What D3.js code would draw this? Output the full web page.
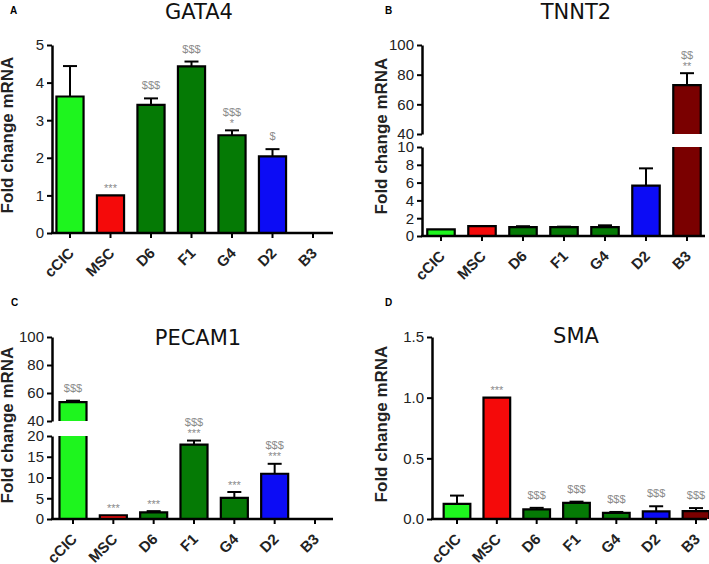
<!DOCTYPE html>
<html>
<head>
<meta charset="utf-8">
<script src="https://cdn.jsdelivr.net/npm/d3@7"></script>
<style>
body { margin: 0; background: #fff; }
svg { display: block; font-family: "Liberation Sans", Arial, sans-serif; }
</style>
</head>
<body>
<svg id="chart" width="709" height="564"></svg>
<script>
// data
const categories = ["cCIC", "MSC", "D6", "F1", "G4", "D2", "B3"];
const barColors = ["#1ef51e", "#f50a0a", "#057a05", "#057a05", "#057a05", "#0c0cf5", "#7a0000"];

const gata4Mean = [3.63, 1.0, 3.41, 4.43, 2.6, 2.04, null];
const gata4Err = [0.81, 0, 0.17, 0.13, 0.13, 0.19, 0];
const gata4Sig = [[], ["***"], ["$$$"], ["$$$"], ["$$$", "*"], ["$"], []];

const tnnt2Mean = [0.75, 1.1, 1.0, 1.0, 1.0, 5.65, 73];
const tnnt2Err = [0, 0, 0.1, 0.05, 0.2, 1.95, 8];
const tnnt2Sig = [[], [], [], [], [], [], ["$$", "**"]];

const pecam1Mean = [53.5, 0.9, 1.6, 17.9, 5.1, 10.9, null];
const pecam1Err = [1.0, 0, 0.3, 1.0, 1.4, 2.4, 0];
const pecam1Sig = [["$$$"], ["***"], ["***"], ["$$$", "***"], ["***"], ["$$$", "***"], []];

const smaMean = [0.125, 1.0, 0.08, 0.133, 0.05, 0.063, 0.065];
const smaErr = [0.068, 0, 0.012, 0.01, 0.008, 0.042, 0.025];
const smaSig = [[], ["***"], ["$$$"], ["$$$"], ["$$$"], ["$$$"], ["$$$"]];

const svg = d3.select("#chart");

// layout of the four panels
const panels = [
    {letter: "A", lx: 10, ly: 14, title: "GATA4", tx: 199, ty: 19, labX: 13, labY: 135,
     axisX: 52, xEnd: 333, first: 70, last: 313, fmt: d3.format("d"),
     mean: gata4Mean, err: gata4Err, sig: gata4Sig,
     segments: [{domain: [0, 5], range: [233, 45], ticks: [0, 1, 2, 3, 4, 5]}]},
    {letter: "B", lx: 385, ly: 14, title: "TNNT2", tx: 576, ty: 19, labX: 387, labY: 136,
     axisX: 422, xEnd: 705, first: 441, last: 687, fmt: d3.format("d"),
     mean: tnnt2Mean, err: tnnt2Err, sig: tnnt2Sig,
     segments: [{domain: [0, 10], range: [236, 147], ticks: [0, 2, 4, 6, 8, 10]},
                {domain: [40, 100], range: [134, 45], ticks: [40, 60, 80, 100]}]},
    {letter: "C", lx: 11, ly: 306, title: "PECAM1", tx: 198, ty: 345, labX: 13, labY: 425,
     axisX: 52, xEnd: 333, first: 73, last: 315, fmt: d3.format("d"),
     mean: pecam1Mean, err: pecam1Err, sig: pecam1Sig,
     segments: [{domain: [0, 20], range: [519, 436], ticks: [0, 5, 10, 15, 20]},
                {domain: [40, 100], range: [421, 337], ticks: [40, 60, 80, 100]}]},
    {letter: "D", lx: 385, ly: 306, title: "SMA", tx: 576, ty: 343, labX: 387, labY: 424,
     axisX: 432, xEnd: 707, first: 457, last: 696, fmt: d3.format(".1f"),
     mean: smaMean, err: smaErr, sig: smaSig,
     segments: [{domain: [0, 1.5], range: [519, 337], ticks: [0, 0.5, 1.0, 1.5]}]}
];

function drawPanel(p) {
    const g = svg.append("g");
    const step = (p.last - p.first) / (categories.length - 1);
    const x = d3.scaleBand()
        .domain(categories)
        .range([p.first - step / 2, p.last + step / 2])
        .paddingInner(0.33)
        .paddingOuter(0.165);

    const segs = p.segments.map(s => ({
        lo: s.domain[0], hi: s.domain[1], ticks: s.ticks,
        scale: d3.scaleLinear().domain(s.domain).range(s.range)
    }));
    const segFor = v => segs.find(s => v <= s.hi) || segs[segs.length - 1];
    const yv = v => segFor(v).scale(v);
    const y0 = segs[0].scale(0);

    // bars, split where the axis is broken
    categories.forEach((c, i) => {
        const v = p.mean[i];
        if (v == null) return;
        const x0 = x(c), x1 = x(c) + x.bandwidth();
        segs.forEach((s, k) => {
            if (k > 0 && v <= s.lo) return;
            const top = Math.min(v, s.hi);
            const yb = s.scale(s.lo), yt = s.scale(top);
            g.append("rect")
                .attr("x", x0).attr("y", yt)
                .attr("width", x.bandwidth()).attr("height", yb - yt)
                .attr("fill", barColors[i]);
            const path = d3.path();
            path.moveTo(x0, yb);
            path.lineTo(x0, yt);
            if (v <= s.hi) { path.lineTo(x1, yt); } else { path.moveTo(x1, yt); }
            path.lineTo(x1, yb);
            g.append("path")
                .attr("d", path.toString())
                .attr("fill", "none")
                .attr("stroke", "#000")
                .attr("stroke-width", 2.2);
        });

        // error bar (upper only)
        const cx = x(c) + x.bandwidth() / 2;
        const e = p.err[i];
        let topY = yv(v);
        if (e > 0) {
            const ye = yv(v + e);
            g.append("line").attr("x1", cx).attr("x2", cx).attr("y1", topY).attr("y2", ye)
                .attr("stroke", "#000").attr("stroke-width", 2);
            g.append("line").attr("x1", cx - 7).attr("x2", cx + 7).attr("y1", ye).attr("y2", ye)
                .attr("stroke", "#000").attr("stroke-width", 2);
            topY = ye;
        }

        // significance marks
        const lines = p.sig[i].slice().reverse();
        let base = topY;
        lines.forEach((t, j) => {
            const gap = j == 0 ? (t[0] == "*" ? 3.5 : 9) : 11;
            base -= gap;
            g.append("text")
                .attr("x", cx).attr("y", base)
                .attr("text-anchor", "middle")
                .attr("font-size", 11)
                .attr("fill", "#8a8a8a")
                .text(t);
        });
    });

    // y axis segments
    segs.forEach(s => {
        const ax = g.append("g")
            .attr("transform", "translate(" + p.axisX + ",0)")
            .call(d3.axisLeft(s.scale).tickValues(s.ticks).tickFormat(p.fmt)
                .tickSize(5).tickSizeOuter(0).tickPadding(3));
        ax.select(".domain").attr("stroke-width", 2.5);
        ax.selectAll(".tick line").attr("stroke-width", 2);
        ax.selectAll(".tick text").attr("font-size", 15).attr("fill", "#222")
            .attr("font-family", "'Liberation Sans', Arial, sans-serif");
    });

    // x axis: ticks from d3, labels rotated in their own group
    const xa = g.append("g")
        .attr("transform", "translate(0," + y0 + ")")
        .call(d3.axisBottom(x).tickSize(5).tickSizeOuter(0));
    xa.select(".domain").remove();
    xa.selectAll(".tick line").attr("stroke-width", 2);
    xa.selectAll(".tick text").remove();
    xa.selectAll(".tick").append("g")
        .attr("transform", "translate(5,21) rotate(-45)")
        .append("text")
        .attr("text-anchor", "end")
        .attr("font-size", 15)
        .attr("font-weight", "bold")
        .attr("fill", "#222")
        .attr("font-family", "'Liberation Sans', Arial, sans-serif")
        .text(d => d);
    g.append("line")
        .attr("x1", p.axisX - 1).attr("x2", p.xEnd)
        .attr("y1", y0).attr("y2", y0)
        .attr("stroke", "#000").attr("stroke-width", 2.5);

    // texts
    g.append("text")
        .attr("x", p.tx).attr("y", p.ty)
        .attr("text-anchor", "middle")
        .attr("font-family", "'DejaVu Sans', sans-serif")
        .attr("font-size", 21)
        .attr("fill", "#111")
        .text(p.title);
    g.append("text")
        .attr("x", p.lx).attr("y", p.ly)
        .attr("font-size", 10)
        .attr("font-weight", "bold")
        .text(p.letter);
    g.append("text")
        .attr("transform", "translate(" + p.labX + "," + p.labY + ") rotate(-90)")
        .attr("text-anchor", "middle")
        .attr("font-size", 17)
        .attr("font-weight", "bold")
        .attr("fill", "#222")
        .text("Fold change mRNA");
}

panels.forEach(drawPanel);
</script>
</body>
</html>
